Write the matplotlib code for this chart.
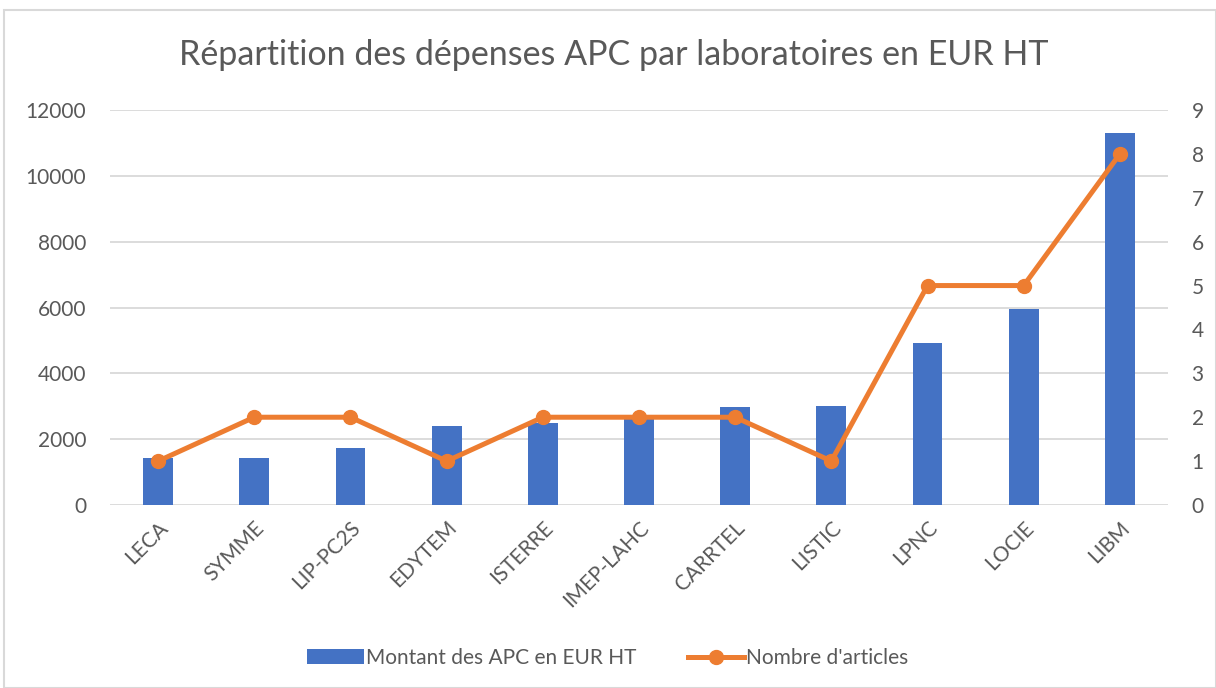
import matplotlib.pyplot as plt
from matplotlib.patches import Rectangle

labs = ['LECA', 'SYMME', 'LIP-PC2S', 'EDYTEM', 'ISTERRE', 'IMEP-LAHC',
        'CARRTEL', 'LISTIC', 'LPNC', 'LOCIE', 'LIBM']
montant = [1430, 1430, 1735, 2400, 2500, 2650, 2990, 3020, 4910, 5960, 11300]
nb_articles = [1, 2, 2, 1, 2, 2, 2, 1, 5, 5, 8]

BLUE = '#4472C4'
ORANGE = '#ED7D31'
GREY = '#595959'

plt.rcParams['font.family'] = ['Lato', 'DejaVu Sans']

fig = plt.figure(figsize=(12.16, 6.88), dpi=100)
ax = fig.add_axes([110 / 1216, 1 - 505 / 688, 1058 / 1216, 395 / 688])
x = list(range(len(labs)))

ax.bar(x, montant, width=0.31, color=BLUE, zorder=2, label='Montant des APC en EUR HT')
ax.set_ylim(0, 12000)
ax.set_yticks(range(0, 12001, 2000))
ax.set_xlim(-0.5, len(labs) - 0.5)
ax.grid(axis='y', color='#D9D9D9', linewidth=1.3, zorder=0)
ax.set_xticks(x)
ax.set_xticklabels(labs, rotation=45, ha='right', rotation_mode='anchor')

ax2 = ax.twinx()
ax2.plot(x, nb_articles, color=ORANGE, linewidth=3.6, marker='o', markersize=10,
         zorder=3, label="Nombre d'articles")
ax2.set_ylim(0, 9)
ax2.set_yticks(range(0, 10))

for a in (ax, ax2):
    for s in a.spines.values():
        s.set_visible(False)
    a.tick_params(length=0, labelsize=15, colors=GREY)
ax.tick_params(axis='y', pad=17)
ax.tick_params(axis='x', pad=9)
ax2.tick_params(axis='y', pad=17)

fig.text(0.505, 1 - 55 / 688, 'Répartition des dépenses APC par laboratoires en EUR HT',
         ha='center', va='center', fontsize=24.5, color=GREY)

h1, l1 = ax.get_legend_handles_labels()
h2, l2 = ax2.get_legend_handles_labels()
fig.legend(h1 + h2, l1 + l2, loc='center', bbox_to_anchor=(0.5, 1 - 658 / 688),
           ncol=2, frameon=False, fontsize=15, labelcolor=GREY,
           handlelength=2.7, handletextpad=0.1, columnspacing=2.5)

fig.patches.append(Rectangle((4 / 1216, 0), 1 - 4 / 1216, 1 - 10 / 688,
                             transform=fig.transFigure, fill=False,
                             edgecolor='#D9D9D9', linewidth=1.5))

fig.savefig('out.png', dpi=100)
